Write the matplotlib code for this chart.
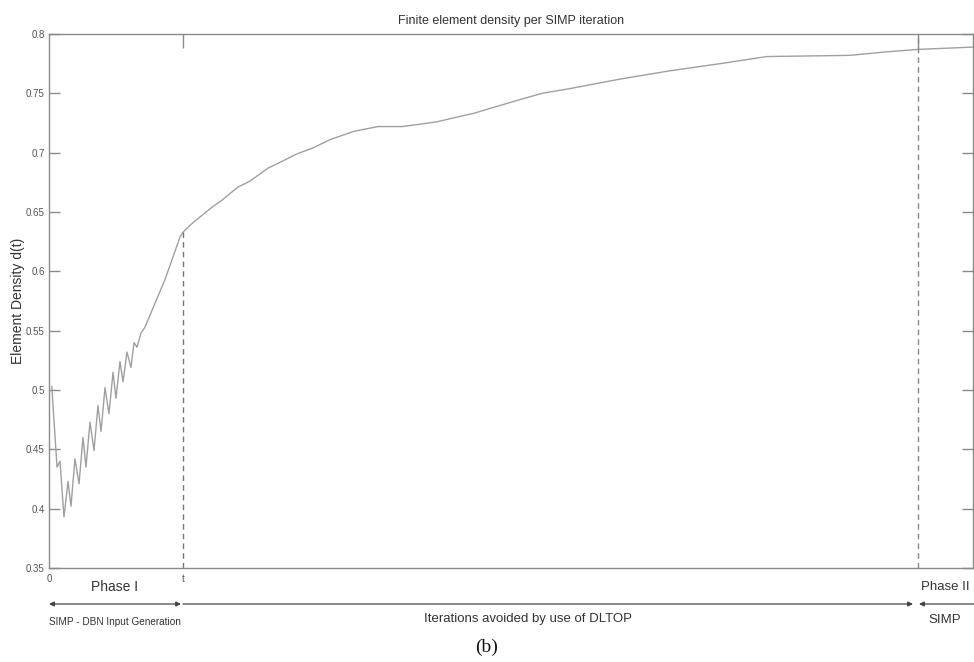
import matplotlib
matplotlib.use("Agg")
import matplotlib.pyplot as plt

plt.rcParams['font.family'] = ['Liberation Sans', 'DejaVu Sans']

# Iteration positions (axis spans 0..100) and element density values
iter_x = [0.3, 0.87, 1.19, 1.62, 2.06, 2.38, 2.81, 3.25, 3.68, 4.00, 4.44, 4.87,
          5.30, 5.63, 6.06, 6.49, 6.93, 7.25, 7.68, 8.01, 8.44, 8.87, 9.20, 9.52,
          9.96, 10.39, 11.47, 12.55, 13.64, 14.18, 14.50,
          15.58, 17.64, 18.72, 20.45, 21.75, 23.70, 24.78, 26.84, 28.57, 30.41,
          33.01, 35.61, 38.20, 40.15, 41.99, 44.16, 45.89, 48.05, 50.65, 53.35,
          56.39, 61.80, 67.21, 72.62, 77.71, 86.69, 90.69, 94.05, 100.0]
density = [0.503, 0.435, 0.440, 0.393, 0.423, 0.402, 0.442, 0.421, 0.460, 0.435,
           0.473, 0.449, 0.487, 0.465, 0.502, 0.480, 0.515, 0.493, 0.524, 0.507,
           0.532, 0.519, 0.540, 0.536, 0.548, 0.553, 0.573, 0.593, 0.617, 0.629,
           0.633,
           0.641, 0.654, 0.660, 0.671, 0.676, 0.687, 0.691, 0.699, 0.704, 0.711,
           0.718, 0.722, 0.722, 0.724, 0.726, 0.730, 0.733, 0.738, 0.744, 0.750,
           0.754, 0.762, 0.769, 0.775, 0.781, 0.782, 0.785, 0.787, 0.789]

t_pos = 14.5
t2_pos = 94.05
t_density = 0.633
y_ticks = [0.35, 0.4, 0.45, 0.5, 0.55, 0.6, 0.65, 0.7, 0.75, 0.8]
y_tick_labels = ['0.35', '0.4', '0.45', '0.5', '0.55', '0.6', '0.65', '0.7', '0.75', '0.8']
x_tick_labels = ['0', 't']

grey = '#8a8a8a'
txt = '#333333'

fig = plt.figure(figsize=(9.74, 6.62), dpi=100)
ax = fig.add_axes([49/974, 1-568/662, (973-49)/974, (568-34)/662])

ax.plot(iter_x, density, color='#a0a0a0', lw=1.0)
ax.plot([t_pos, t_pos], [0.35, t_density], color='#777777', lw=1.0, ls=(0, (4, 3)))
ax.plot([t2_pos, t2_pos], [0.35, 0.8], color='#888888', lw=1.0, ls=(0, (4, 3)))

ax.set_xlim(0, 100)
ax.set_ylim(0.35, 0.8)
ax.set_yticks(y_ticks)
ax.set_yticklabels(y_tick_labels)
ax.xaxis.remove_overlapping_locs = False
ax.set_xticks([0, t_pos])
ax.set_xticklabels(x_tick_labels)
ax.set_xticks([t_pos, t2_pos], minor=True)
ax.tick_params(axis='y', direction='in', length=8, width=1, color=grey,
               labelsize=7, labelcolor='#555555', left=True, right=True, pad=3)
ax.tick_params(axis='x', which='major', direction='in', length=0,
               labelsize=7, labelcolor='#555555', pad=4)
ax.tick_params(axis='x', which='minor', direction='in', length=10, width=1,
               color=grey, top=True, bottom=False)
for s in ax.spines.values():
    s.set_color(grey)
    s.set_linewidth(1.0)

ax.set_title('Finite element density per SIMP iteration', fontsize=9, color=txt, pad=7)
ax.set_ylabel('Element Density d(t)', fontsize=10, color=txt)
ax.yaxis.set_label_coords(-0.026, 0.5)

# annotations below the axis (figure pixel coordinates)
def fx(px):
    return px / 974
def fy(py):
    return 1 - py / 662

fig.text(fx(115), fy(587), 'Phase I', fontsize=10, color=txt, ha='center', va='center')
fig.text(fx(945), fy(587), 'Phase II', fontsize=9.5, color=txt, ha='center', va='center')

aprops = dict(arrowstyle='<|-|>', color='#444444', lw=0.9, mutation_scale=7,
              shrinkA=0, shrinkB=0)
fig.add_artist(matplotlib.patches.FancyArrowPatch((fx(49), fy(604)), (fx(181), fy(604)),
               transform=fig.transFigure, **aprops))
aprops2 = dict(arrowstyle='-|>', color='#444444', lw=0.9, mutation_scale=7,
               shrinkA=0, shrinkB=0)
fig.add_artist(matplotlib.patches.FancyArrowPatch((fx(183), fy(604)), (fx(913), fy(604)),
               transform=fig.transFigure, **aprops2))
fig.add_artist(matplotlib.patches.FancyArrowPatch((fx(974), fy(604)), (fx(919), fy(604)),
               transform=fig.transFigure, **aprops2))

fig.text(fx(49), fy(622), 'SIMP - DBN Input Generation', fontsize=7.2, color=txt,
         ha='left', va='center')
fig.text(fx(528), fy(619), 'Iterations avoided by use of DLTOP', fontsize=9.5, color=txt,
         ha='center', va='center')
fig.text(fx(945), fy(620), 'SIMP', fontsize=9.5, color=txt, ha='center', va='center')
fig.text(fx(487), fy(647), '(b)', fontsize=14, color='#111111', ha='center', va='center',
         family=['Liberation Serif', 'DejaVu Serif'])

fig.savefig('out.png', dpi=100)
